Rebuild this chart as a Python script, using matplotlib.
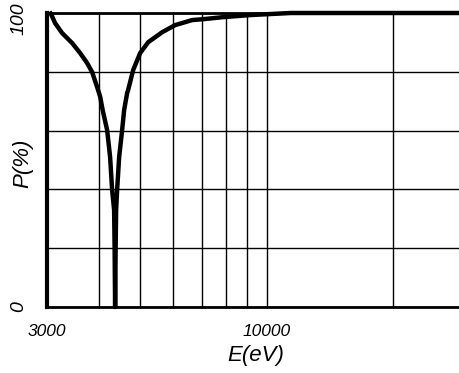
import matplotlib
matplotlib.use('Agg')
import matplotlib.pyplot as plt
from matplotlib.ticker import NullFormatter
from matplotlib.transforms import ScaledTranslation

# values
energy = [3060, 3084, 3135, 3258, 3442, 3596, 3737, 3842, 3949, 4015,
          4070, 4171, 4240, 4287, 4334, 4346, 4358, 4370, 4382, 4406,
          4455, 4529, 4579, 4655, 4680, 4811, 5000, 5227, 5645, 6060,
          6652, 7067, 7889, 9150, 11400, 30000]
percent = [99.8, 98.9, 96.6, 93.2, 89.8, 86.4, 83.0, 79.9, 74.8, 71.5,
           67.0, 60.2, 51.0, 39.8, 33.0, 20.0, 0.0, 20.0, 33.0, 39.8,
           51.0, 60.2, 67.0, 72.8, 73.8, 80.6, 86.4, 90.1, 93.5, 95.9,
           97.6, 97.9, 98.6, 99.3, 100.0, 100.0]

major_e = [3000, 10000]
major_lbl = ['3000', '10000']
minor_e = [4000, 5000, 6000, 7000, 8000, 9000, 20000]
y_ticks = [0, 20, 40, 60, 80, 100]
y_lbl = ['0', '', '', '', '', '100']

plt.rcParams['font.family'] = ['Liberation Sans', 'DejaVu Sans']

fig = plt.figure(figsize=(4.59, 3.73), dpi=100)
ax = fig.add_axes([47 / 459, 66 / 373, 412 / 459, 294 / 373])

ax.plot(energy, percent, color='black', lw=3.2, solid_joinstyle='round',
        zorder=3, clip_on=False)

ax.set_xscale('log')
ax.set_xlim(3000, 28700)
ax.set_ylim(0, 100)

ax.set_xticks(major_e)
ax.set_xticklabels(major_lbl, fontsize=12.5, style='italic')
ax.set_xticks(minor_e, minor=True)
ax.xaxis.set_minor_formatter(NullFormatter())
ax.set_yticks(y_ticks)
ax.set_yticklabels(y_lbl, fontsize=14, style='italic', rotation=90, va='center')
ax.tick_params(which='both', length=0)
ax.tick_params(axis='x', pad=12)
ax.tick_params(axis='y', pad=14)

# the "100" sits a little below the top line in the reference
top_lbl = ax.get_yticklabels()[-1]
top_lbl.set_transform(top_lbl.get_transform() +
                      ScaledTranslation(0, -6 / 100, fig.dpi_scale_trans))

ax.grid(True, which='both', color='black', lw=1)

ax.spines['right'].set_visible(False)
ax.spines['left'].set_linewidth(3)
ax.spines['top'].set_linewidth(2)
ax.spines['bottom'].set_linewidth(2)

ax.set_xlabel('E(eV)', fontsize=16, style='italic')
ax.xaxis.set_label_coords(0.507, -0.13)
ax.set_ylabel('P(%)', fontsize=16, style='italic')
ax.yaxis.set_label_coords(-0.034, 0.49)

fig.savefig('out.png', dpi=100)
